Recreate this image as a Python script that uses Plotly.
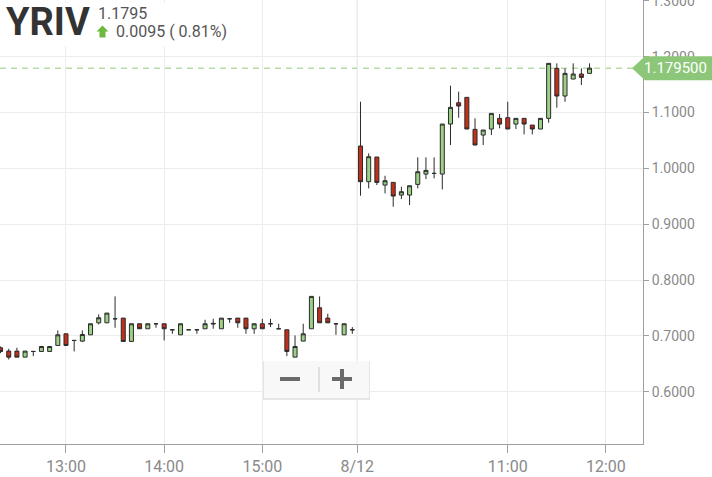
import pandas as pd
import plotly.graph_objects as go

# ---------------- data ----------------
symbol = "YRIV"
prev_close = 1.1700

day1_start = "2016-08-11 12:20"
day1_open = [0.6787, 0.6727, 0.6727, 0.6619, 0.6721, 0.6721, 0.6721, 0.6828, 0.7037, 0.6918,
             0.6906, 0.7019, 0.7234, 0.7234, 0.7306, 0.7318, 0.6900, 0.7217, 0.7127, 0.7217,
             0.7217, 0.7109, 0.7019, 0.7109, 0.7109, 0.7127, 0.7211, 0.7127, 0.7306, 0.7318,
             0.7318, 0.7127, 0.7217, 0.7217, 0.7127, 0.7109, 0.6619, 0.6906, 0.7127, 0.7503,
             0.7318, 0.7217, 0.7019, 0.7109]
day1_high = [0.6810, 0.6769, 0.6787, 0.6727, 0.6721, 0.6810, 0.6810, 0.7097, 0.7037, 0.6918,
             0.7097, 0.7217, 0.7384, 0.7408, 0.7707, 0.7318, 0.7217, 0.7217, 0.7217, 0.7217,
             0.7217, 0.7109, 0.7217, 0.7109, 0.7109, 0.7288, 0.7306, 0.7318, 0.7306, 0.7318,
             0.7318, 0.7217, 0.7306, 0.7306, 0.7217, 0.7109, 0.7008, 0.7217, 0.7707, 0.7707,
             0.7396, 0.7217, 0.7217, 0.7157]
day1_low = [0.6691, 0.6577, 0.6619, 0.6619, 0.6637, 0.6721, 0.6721, 0.6828, 0.6828, 0.6721,
            0.6888, 0.7019, 0.7205, 0.7234, 0.7145, 0.6900, 0.6900, 0.7127, 0.7127, 0.7145,
            0.6918, 0.7037, 0.7019, 0.7109, 0.7037, 0.7127, 0.7127, 0.7127, 0.7234, 0.7145,
            0.7037, 0.7037, 0.7127, 0.7157, 0.7127, 0.6637, 0.6619, 0.6906, 0.7127, 0.7234,
            0.7234, 0.7019, 0.7019, 0.7037]
day1_close = [0.6721, 0.6619, 0.6619, 0.6727, 0.6721, 0.6810, 0.6810, 0.7019, 0.6828, 0.6918,
              0.7025, 0.7217, 0.7324, 0.7408, 0.7306, 0.6900, 0.7217, 0.7127, 0.7217, 0.7217,
              0.7127, 0.7109, 0.7217, 0.7109, 0.7109, 0.7217, 0.7223, 0.7318, 0.7306, 0.7234,
              0.7127, 0.7217, 0.7127, 0.7217, 0.7127, 0.6721, 0.6810, 0.7037, 0.7707, 0.7234,
              0.7234, 0.7217, 0.7217, 0.7109]

day2_start = "2016-08-12 09:30"
day2_open = [1.0400, 0.9761, 1.0203, 0.9701, 0.9749, 0.9522, 0.9522, 0.9713, 0.9898, 0.9910,
             0.9898, 1.0794, 1.1176, 1.1272, 1.0699, 1.0597, 1.0705, 1.0896, 1.0908, 1.0794,
             1.0896, 1.0776, 1.0705, 1.0896, 1.1792, 1.1296, 1.1600, 1.1690, 1.1702]
day2_high = [1.1194, 1.0269, 1.0203, 0.9868, 0.9749, 0.9671, 0.9689, 1.0197, 1.0197, 1.0197,
             1.0794, 1.1481, 1.1374, 1.1272, 1.0896, 1.0687, 1.0985, 1.0973, 1.1194, 1.0896,
             1.0896, 1.0776, 1.0896, 1.1881, 1.1881, 1.1792, 1.1881, 1.1792, 1.1881]
day2_low = [0.9510, 0.9641, 0.9701, 0.9552, 0.9313, 0.9450, 0.9343, 0.9641, 0.9809, 0.9821,
            0.9623, 1.0418, 1.0908, 1.0705, 1.0418, 1.0418, 1.0597, 1.0717, 1.0705, 1.0705,
            1.0609, 1.0609, 1.0705, 1.0818, 1.1087, 1.1194, 1.1600, 1.1493, 1.1702]
day2_close = [0.9761, 1.0209, 0.9749, 0.9779, 0.9504, 0.9582, 0.9689, 0.9940, 0.9964, 0.9910,
              1.0794, 1.1093, 1.1117, 1.0705, 1.0418, 1.0687, 1.0985, 1.0794, 1.0705, 1.0896,
              1.0794, 1.0705, 1.0896, 1.1881, 1.1296, 1.1702, 1.1690, 1.1630, 1.1795]

tick_vals = ["2016-08-11 13:00", "2016-08-11 14:00", "2016-08-11 15:00",
             "2016-08-11 15:58", "2016-08-12 11:00", "2016-08-12 12:00"]
tick_text = ["13:00", "14:00", "15:00", "8/12", "11:00", "12:00"]
day_break_tick = "2016-08-11 15:58"
x_range = ["2016-08-11 12:19:40", "2016-08-12 12:22:40"]
y_range = [0.5063, 1.3016]

# ---------------- build ----------------
times = list(pd.date_range(day1_start, periods=len(day1_open), freq="5min")) + \
        list(pd.date_range(day2_start, periods=len(day2_open), freq="5min"))
opens = day1_open + day2_open
highs = day1_high + day2_high
lows = day1_low + day2_low
closes = day1_close + day2_close
last = closes[-1]
chg = last - prev_close
pct = chg / prev_close * 100

W, H = 712, 477
ML, MR, MT, MB = 0, 69, 0, 33
PW, PH = W - ML - MR, H - MT - MB


def px(x):
    return (x - ML) / PW


def py(y):
    return 1 - (y - MT) / PH


def yp(v):
    return (v - y_range[0]) / (y_range[1] - y_range[0])


OUTLINE = "#2b2b2b"
fig = go.Figure(go.Candlestick(
    x=times, open=opens, high=highs, low=lows, close=closes,
    increasing=dict(line=dict(color=OUTLINE, width=1), fillcolor="#9bd087"),
    decreasing=dict(line=dict(color=OUTLINE, width=1), fillcolor="#c0301b"),
    whiskerwidth=0, showlegend=False, hoverinfo="skip",
))

shapes = []
# darker day separator line
shapes.append(dict(type="line", xref="x", yref="paper", x0=day_break_tick, x1=day_break_tick,
                   y0=0, y1=1, line=dict(color="#dcdcdc", width=1), layer="below"))
# white box behind the title
shapes.append(dict(type="rect", xref="paper", yref="paper", x0=px(0), x1=px(245),
                   y0=py(46), y1=py(3), fillcolor="white", line=dict(width=0), layer="above"))
# last price dashed line
shapes.append(dict(type="line", xref="paper", yref="y", x0=0, x1=1, y0=last, y1=last,
                   line=dict(color="#b6dca6", width=1.5, dash="6px,5px"), layer="below"))
# price tag
tc = yp(last)
hh = 12 / PH
shapes.append(dict(type="path", xref="paper", yref="paper",
                   path=(f"M {px(632)} {tc} L {px(645)} {tc + hh} L {px(712)} {tc + hh} "
                         f"L {px(712)} {tc - hh} L {px(645)} {tc - hh} Z"),
                   fillcolor="#8cc678", line=dict(width=0), layer="above"))
# up arrow in header
shapes.append(dict(type="path", xref="paper", yref="paper",
                   path=(f"M {px(102.5)} {py(25.5)} L {px(108.5)} {py(31.5)} L {px(105.5)} {py(31.5)} "
                         f"L {px(105.5)} {py(37.5)} L {px(99.5)} {py(37.5)} L {px(99.5)} {py(31.5)} "
                         f"L {px(96.5)} {py(31.5)} Z"),
                   fillcolor="#6db93f", line=dict(width=0), layer="above"))
# zoom control box (shadow + box)
shapes.append(dict(type="rect", xref="paper", yref="paper", x0=px(263), x1=px(370),
                   y0=py(400), y1=py(361), fillcolor="#e6e6e6", line=dict(width=0), layer="above"))
shapes.append(dict(type="rect", xref="paper", yref="paper", x0=px(264), x1=px(369),
                   y0=py(398), y1=py(361), fillcolor="#f8f8f8", line=dict(width=0), layer="above"))
shapes.append(dict(type="line", xref="paper", yref="paper", x0=px(319), x1=px(319),
                   y0=py(367), y1=py(392), line=dict(color="#c8c8c8", width=1), layer="above"))
shapes.append(dict(type="line", xref="paper", yref="paper", x0=px(280), x1=px(300),
                   y0=py(379), y1=py(379), line=dict(color="#6a6a6a", width=4), layer="above"))
shapes.append(dict(type="line", xref="paper", yref="paper", x0=px(332), x1=px(352),
                   y0=py(379), y1=py(379), line=dict(color="#6a6a6a", width=4), layer="above"))
shapes.append(dict(type="line", xref="paper", yref="paper", x0=px(342), x1=px(342),
                   y0=py(369), y1=py(389), line=dict(color="#6a6a6a", width=4), layer="above"))

annotations = [
    dict(text=f"<b>{symbol}</b>", xref="paper", yref="paper", x=px(4), y=py(22),
         xanchor="left", yanchor="middle", showarrow=False,
         font=dict(family="Roboto", size=38, color="#333333")),
    dict(text=f"{last:.4f}", xref="paper", yref="paper", x=px(96), y=py(13),
         xanchor="left", yanchor="middle", showarrow=False,
         font=dict(family="Roboto", size=16, color="#555555")),
    dict(text=f"{chg:.4f} ( {pct:.2f}%)", xref="paper", yref="paper", x=px(114), y=py(31.5),
         xanchor="left", yanchor="middle", showarrow=False,
         font=dict(family="Roboto", size=16, color="#555555")),
    dict(text=f"{last:.6f}", xref="paper", yref="paper", x=px(709), y=tc,
         xanchor="right", yanchor="middle", showarrow=False,
         font=dict(family="Roboto", size=15, color="white")),
]

fig.update_layout(
    width=W, height=H, margin=dict(l=ML, r=MR, t=MT, b=MB, autoexpand=False),
    paper_bgcolor="white", plot_bgcolor="white",
    font=dict(family="Roboto", color="#8a8a8a"),
    shapes=shapes, annotations=annotations, showlegend=False,
    xaxis=dict(
        type="date", range=x_range, rangeslider=dict(visible=False),
        rangebreaks=[dict(bounds=[16, 9.5], pattern="hour")],
        tickmode="array", tickvals=tick_vals, ticktext=tick_text,
        showgrid=True, gridcolor="#ececec", gridwidth=1,
        showline=True, linecolor="#a0a0a0", linewidth=1,
        ticks="outside", ticklen=8, tickcolor="#a0a0a0",
        tickfont=dict(family="Roboto", size=16, color="#8a8a8a"),
        ticklabeloverflow="allow", automargin=False,
        zeroline=False, fixedrange=True,
    ),
    yaxis=dict(
        side="right", range=y_range, dtick=0.1, tick0=0, tickformat=".4f",
        showgrid=True, gridcolor="#ececec", gridwidth=1,
        showline=True, linecolor="#a0a0a0", linewidth=1,
        ticks="outside", ticklen=5, tickcolor="#a0a0a0",
        tickfont=dict(family="Roboto", size=14, color="#8a8a8a"),
        ticklabeloverflow="allow", automargin=False,
        zeroline=False, fixedrange=True,
    ),
)

fig.write_html("out.html", config=dict(displayModeBar=False),
               post_script="document.body.style.margin='0';document.body.style.overflow='hidden';")
